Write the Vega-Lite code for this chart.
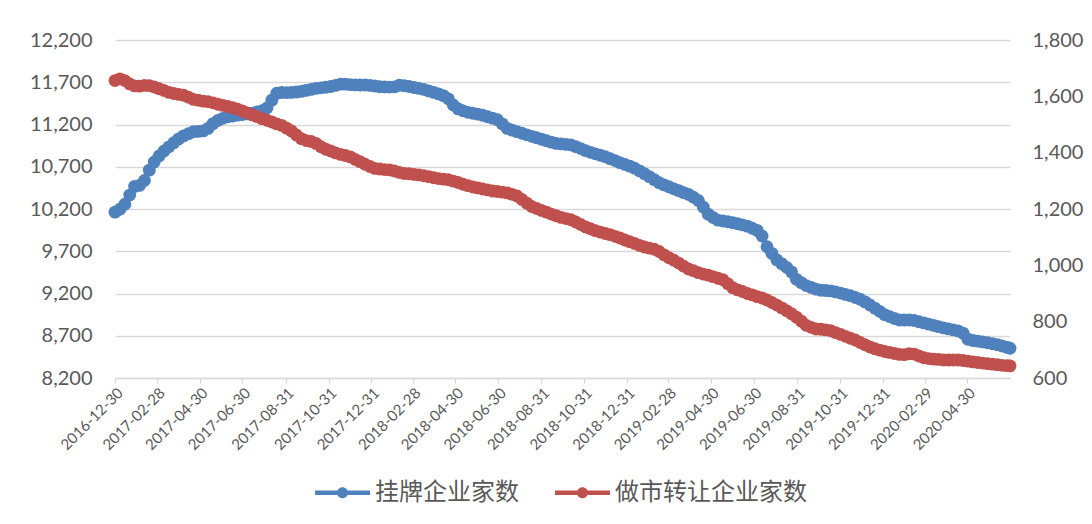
{
  "$schema": "https://vega.github.io/schema/vega-lite/v6.json",
  "width": 895,
  "height": 338,
  "autosize": {"type": "none"},
  "padding": {"left": 115, "top": 40, "right": 82, "bottom": 146},
  "background": "white",
  "data": {"values": [
    {"d":"2016-12-30","a":10163,"b":1656},{"d":"2017-01-06","a":10197,"b":1662},{"d":"2017-01-13","a":10257,"b":1656},{"d":"2017-01-20","a":10365,"b":1644},{"d":"2017-01-27","a":10468,"b":1637},
    {"d":"2017-02-03","a":10479,"b":1636},{"d":"2017-02-10","a":10537,"b":1639},{"d":"2017-02-17","a":10660,"b":1638},{"d":"2017-02-24","a":10756,"b":1633},{"d":"2017-03-03","a":10828,"b":1627},
    {"d":"2017-03-10","a":10886,"b":1621},{"d":"2017-03-17","a":10936,"b":1614},{"d":"2017-03-24","a":10985,"b":1610},{"d":"2017-03-31","a":11030,"b":1607},{"d":"2017-04-07","a":11065,"b":1604},
    {"d":"2017-04-14","a":11090,"b":1597},{"d":"2017-04-21","a":11115,"b":1589},{"d":"2017-04-28","a":11118,"b":1586},{"d":"2017-05-05","a":11124,"b":1583},{"d":"2017-05-12","a":11154,"b":1581},
    {"d":"2017-05-19","a":11210,"b":1577},{"d":"2017-05-26","a":11249,"b":1572},{"d":"2017-06-02","a":11273,"b":1568},{"d":"2017-06-09","a":11291,"b":1564},{"d":"2017-06-16","a":11301,"b":1560},
    {"d":"2017-06-23","a":11311,"b":1554},{"d":"2017-06-30","a":11318,"b":1548},{"d":"2017-07-07","a":11325,"b":1541},{"d":"2017-07-14","a":11334,"b":1534},{"d":"2017-07-21","a":11348,"b":1528},
    {"d":"2017-07-28","a":11363,"b":1521},{"d":"2017-08-04","a":11395,"b":1515},{"d":"2017-08-11","a":11488,"b":1509},{"d":"2017-08-18","a":11570,"b":1502},{"d":"2017-08-25","a":11579,"b":1497},
    {"d":"2017-09-01","a":11578,"b":1487},{"d":"2017-09-08","a":11580,"b":1477},{"d":"2017-09-15","a":11585,"b":1463},{"d":"2017-09-22","a":11592,"b":1450},{"d":"2017-09-29","a":11604,"b":1443},
    {"d":"2017-10-06","a":11615,"b":1440},{"d":"2017-10-13","a":11627,"b":1433},{"d":"2017-10-20","a":11634,"b":1421},{"d":"2017-10-27","a":11641,"b":1412},{"d":"2017-11-03","a":11650,"b":1406},
    {"d":"2017-11-10","a":11663,"b":1399},{"d":"2017-11-17","a":11677,"b":1394},{"d":"2017-11-24","a":11677,"b":1390},{"d":"2017-12-01","a":11672,"b":1385},{"d":"2017-12-08","a":11669,"b":1376},
    {"d":"2017-12-15","a":11667,"b":1368},{"d":"2017-12-22","a":11667,"b":1359},{"d":"2017-12-29","a":11663,"b":1351},{"d":"2018-01-05","a":11656,"b":1344},{"d":"2018-01-12","a":11647,"b":1342},
    {"d":"2018-01-19","a":11645,"b":1340},{"d":"2018-01-26","a":11643,"b":1339},{"d":"2018-02-02","a":11645,"b":1335},{"d":"2018-02-09","a":11665,"b":1330},{"d":"2018-02-16","a":11659,"b":1326},
    {"d":"2018-02-23","a":11650,"b":1325},{"d":"2018-03-02","a":11638,"b":1323},{"d":"2018-03-09","a":11627,"b":1321},{"d":"2018-03-16","a":11615,"b":1318},{"d":"2018-03-23","a":11598,"b":1315},
    {"d":"2018-03-30","a":11580,"b":1311},{"d":"2018-04-06","a":11562,"b":1308},{"d":"2018-04-13","a":11542,"b":1306},{"d":"2018-04-20","a":11504,"b":1304},{"d":"2018-04-27","a":11431,"b":1299},
    {"d":"2018-05-04","a":11385,"b":1294},{"d":"2018-05-11","a":11362,"b":1288},{"d":"2018-05-18","a":11344,"b":1283},{"d":"2018-05-25","a":11333,"b":1278},{"d":"2018-06-01","a":11322,"b":1275},
    {"d":"2018-06-08","a":11309,"b":1271},{"d":"2018-06-15","a":11292,"b":1268},{"d":"2018-06-22","a":11275,"b":1264},{"d":"2018-06-29","a":11257,"b":1262},{"d":"2018-07-06","a":11207,"b":1260},
    {"d":"2018-07-13","a":11154,"b":1257},{"d":"2018-07-20","a":11133,"b":1252},{"d":"2018-07-27","a":11115,"b":1246},{"d":"2018-08-03","a":11096,"b":1234},{"d":"2018-08-10","a":11078,"b":1221},
    {"d":"2018-08-17","a":11060,"b":1209},{"d":"2018-08-24","a":11043,"b":1202},{"d":"2018-08-31","a":11026,"b":1195},{"d":"2018-09-07","a":11008,"b":1189},{"d":"2018-09-14","a":10991,"b":1182},
    {"d":"2018-09-21","a":10976,"b":1176},{"d":"2018-09-28","a":10970,"b":1170},{"d":"2018-10-05","a":10964,"b":1166},{"d":"2018-10-12","a":10958,"b":1162},{"d":"2018-10-19","a":10938,"b":1154},
    {"d":"2018-10-26","a":10915,"b":1145},{"d":"2018-11-02","a":10891,"b":1136},{"d":"2018-11-09","a":10871,"b":1130},{"d":"2018-11-16","a":10853,"b":1123},{"d":"2018-11-23","a":10836,"b":1118},
    {"d":"2018-11-30","a":10819,"b":1113},{"d":"2018-12-07","a":10795,"b":1109},{"d":"2018-12-14","a":10773,"b":1103},{"d":"2018-12-21","a":10749,"b":1097},{"d":"2018-12-28","a":10728,"b":1090},
    {"d":"2019-01-04","a":10707,"b":1084},{"d":"2019-01-11","a":10683,"b":1078},{"d":"2019-01-18","a":10651,"b":1071},{"d":"2019-01-25","a":10618,"b":1065},{"d":"2019-02-01","a":10583,"b":1061},
    {"d":"2019-02-08","a":10548,"b":1057},{"d":"2019-02-15","a":10511,"b":1049},{"d":"2019-02-22","a":10485,"b":1037},{"d":"2019-03-01","a":10463,"b":1027},{"d":"2019-03-08","a":10439,"b":1018},
    {"d":"2019-03-15","a":10417,"b":1008},{"d":"2019-03-22","a":10394,"b":997},{"d":"2019-03-29","a":10373,"b":987},{"d":"2019-04-05","a":10340,"b":981},{"d":"2019-04-12","a":10301,"b":974},
    {"d":"2019-04-19","a":10223,"b":969},{"d":"2019-04-26","a":10139,"b":965},{"d":"2019-05-03","a":10100,"b":960},{"d":"2019-05-10","a":10068,"b":954},{"d":"2019-05-17","a":10058,"b":949},
    {"d":"2019-05-24","a":10049,"b":935},{"d":"2019-05-31","a":10039,"b":921},{"d":"2019-06-07","a":10026,"b":913},{"d":"2019-06-14","a":10012,"b":907},{"d":"2019-06-21","a":9997,"b":900},
    {"d":"2019-06-28","a":9972,"b":895},{"d":"2019-07-05","a":9947,"b":889},{"d":"2019-07-12","a":9881,"b":884},{"d":"2019-07-19","a":9753,"b":877},{"d":"2019-07-26","a":9675,"b":868},
    {"d":"2019-08-02","a":9598,"b":859},{"d":"2019-08-09","a":9554,"b":849},{"d":"2019-08-16","a":9510,"b":839},{"d":"2019-08-23","a":9456,"b":828},{"d":"2019-08-30","a":9368,"b":816},
    {"d":"2019-09-06","a":9329,"b":802},{"d":"2019-09-13","a":9294,"b":787},{"d":"2019-09-20","a":9272,"b":780},{"d":"2019-09-27","a":9252,"b":774},{"d":"2019-10-04","a":9239,"b":773},
    {"d":"2019-10-11","a":9236,"b":771},{"d":"2019-10-18","a":9231,"b":768},{"d":"2019-10-25","a":9219,"b":761},{"d":"2019-11-01","a":9205,"b":755},{"d":"2019-11-08","a":9190,"b":748},
    {"d":"2019-11-15","a":9174,"b":741},{"d":"2019-11-22","a":9153,"b":735},{"d":"2019-11-29","a":9132,"b":726},{"d":"2019-12-06","a":9101,"b":718},{"d":"2019-12-13","a":9064,"b":710},
    {"d":"2019-12-20","a":9027,"b":704},{"d":"2019-12-27","a":8989,"b":699},{"d":"2020-01-03","a":8950,"b":694},{"d":"2020-01-10","a":8927,"b":691},{"d":"2020-01-17","a":8904,"b":687},
    {"d":"2020-01-24","a":8886,"b":684},{"d":"2020-01-31","a":8886,"b":683},{"d":"2020-02-07","a":8886,"b":686},{"d":"2020-02-14","a":8881,"b":685},{"d":"2020-02-21","a":8866,"b":678},
    {"d":"2020-02-28","a":8852,"b":672},{"d":"2020-03-06","a":8837,"b":669},{"d":"2020-03-13","a":8823,"b":667},{"d":"2020-03-20","a":8808,"b":666},{"d":"2020-03-27","a":8793,"b":664},
    {"d":"2020-04-03","a":8781,"b":664},{"d":"2020-04-10","a":8769,"b":664},{"d":"2020-04-17","a":8757,"b":664},{"d":"2020-04-24","a":8731,"b":662},{"d":"2020-05-01","a":8659,"b":660},
    {"d":"2020-05-08","a":8644,"b":657},{"d":"2020-05-15","a":8636,"b":655},{"d":"2020-05-22","a":8628,"b":653},{"d":"2020-05-29","a":8617,"b":651},{"d":"2020-06-05","a":8605,"b":649},
    {"d":"2020-06-12","a":8593,"b":647},{"d":"2020-06-19","a":8579,"b":645},{"d":"2020-06-26","a":8562,"b":644},{"d":"2020-06-30","a":8552,"b":643}
  ]},
  "encoding": {
    "x": {
      "field": "d", "type": "temporal",
      "scale": {"type": "utc", "domain": [{"year": 2016, "month": 12, "date": 30, "utc": true}, {"year": 2020, "month": 6, "date": 30, "utc": true}]},
      "axis": {
        "title": null, "format": "%Y-%m-%d", "labelAngle": -45, "labelFontSize": 15, "labelFont": "Lato", "labelColor": "#595959",
        "domain": true, "domainColor": "#d9d9d9", "domainWidth": 1.3, "ticks": true, "tickColor": "#d9d9d9", "tickSize": 5, "tickWidth": 1.3,
        "grid": false, "labelPadding": 2, "labelOverlap": false, "labelBound": false,
        "values": [
          {"year": 2016, "month": 12, "date": 30, "utc": true}, {"year": 2017, "month": 2, "date": 28, "utc": true}, {"year": 2017, "month": 4, "date": 30, "utc": true},
          {"year": 2017, "month": 6, "date": 30, "utc": true}, {"year": 2017, "month": 8, "date": 31, "utc": true}, {"year": 2017, "month": 10, "date": 31, "utc": true},
          {"year": 2017, "month": 12, "date": 31, "utc": true}, {"year": 2018, "month": 2, "date": 28, "utc": true}, {"year": 2018, "month": 4, "date": 30, "utc": true},
          {"year": 2018, "month": 6, "date": 30, "utc": true}, {"year": 2018, "month": 8, "date": 31, "utc": true}, {"year": 2018, "month": 10, "date": 31, "utc": true},
          {"year": 2018, "month": 12, "date": 31, "utc": true}, {"year": 2019, "month": 2, "date": 28, "utc": true}, {"year": 2019, "month": 4, "date": 30, "utc": true},
          {"year": 2019, "month": 6, "date": 30, "utc": true}, {"year": 2019, "month": 8, "date": 31, "utc": true}, {"year": 2019, "month": 10, "date": 31, "utc": true},
          {"year": 2019, "month": 12, "date": 31, "utc": true}, {"year": 2020, "month": 2, "date": 29, "utc": true}, {"year": 2020, "month": 4, "date": 30, "utc": true}
        ]
      }
    }
  },
  "layer": [
    {
      "encoding": {
        "y": {
          "field": "a", "type": "quantitative",
          "scale": {"domain": [8200, 12200], "nice": false, "zero": false},
          "axis": {"title": null, "orient": "left", "values": [8200, 8700, 9200, 9700, 10200, 10700, 11200, 11700, 12200], "format": ",d",
                   "labelFontSize": 20, "labelFont": "Lato", "labelColor": "#595959", "labelPadding": 23, "domain": false, "ticks": false,
                   "grid": true, "gridColor": "#d9d9d9", "gridWidth": 1.3}
        },
        "color": {
          "datum": "挂牌企业家数",
          "scale": {"domain": ["挂牌企业家数", "做市转让企业家数"], "range": ["#4F81BD", "#C0504D"]},
          "legend": {
            "title": null, "orient": "none", "direction": "horizontal", "legendX": 200, "legendY": 425,
            "symbolType": "M-1,-0.08L1,-0.08L1,0.08L-1,0.08Z M0.2,0A0.2,0.2 0 1,1 -0.2,0A0.2,0.2 0 1,1 0.2,0Z",
            "symbolSize": 3025, "symbolStrokeWidth": 0, "labelFont": "Noto Sans CJK SC", "labelFontSize": 24, "labelColor": "#595959",
            "labelOffset": 5, "columnPadding": 36, "labelLimit": 400,
            "encode": {"symbols": {"update": {"fill": {"scale": "color", "field": "value"}, "stroke": {"value": "transparent"}, "opacity": {"value": 1}}}}
          }
        }
      },
      "layer": [
        {"mark": {"type": "line", "strokeWidth": 4}},
        {"mark": {"type": "circle", "size": 165, "opacity": 1}}
      ]
    },
    {
      "encoding": {
        "y": {
          "field": "b", "type": "quantitative",
          "scale": {"domain": [600, 1800], "nice": false, "zero": false},
          "axis": {"title": null, "orient": "right", "values": [600, 800, 1000, 1200, 1400, 1600, 1800], "format": ",d",
                   "labelFontSize": 20, "labelFont": "Lato", "labelColor": "#595959", "labelPadding": 22, "domain": false, "ticks": false, "grid": false}
        },
        "color": {"datum": "做市转让企业家数"}
      },
      "layer": [
        {"mark": {"type": "line", "strokeWidth": 4}},
        {"mark": {"type": "circle", "size": 165, "opacity": 1}}
      ]
    }
  ],
  "resolve": {"scale": {"y": "independent"}},
  "config": {"view": {"stroke": null}}
}
